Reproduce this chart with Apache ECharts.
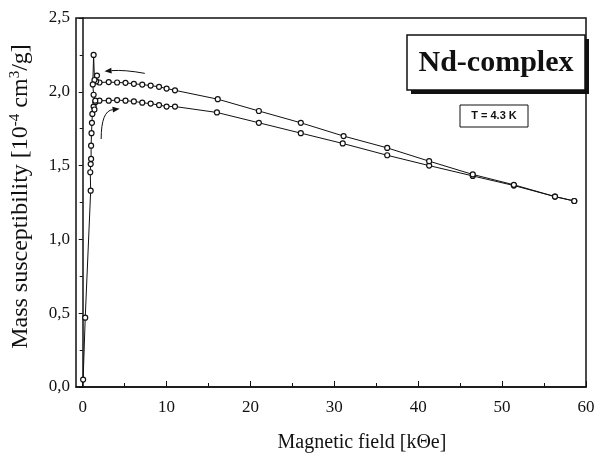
<!DOCTYPE html>
<html>
<head>
<meta charset="utf-8">
<script src="https://cdn.jsdelivr.net/npm/echarts@6/dist/echarts.min.js"></script>
<style>
  html, body { margin: 0; padding: 0; background: #fff; }
  #chart { width: 602px; height: 461px; }
</style>
</head>
<body>
<div id="chart"></div>
<script>
///////////////////////
// data
///////////////////////

// increasing field (lower branch)
const upField = [0.05, 0.3, 0.95, 0.9, 0.95, 1.0, 1.0, 1.05, 1.1, 1.15, 1.3, 1.5,
    2.0, 3.1, 4.1, 5.1, 6.1, 7.1, 8.1, 9.1, 10.0, 11.0,
    16.0, 21.0, 26.0, 31.0, 36.3, 41.3, 46.5, 51.4, 56.3, 58.6];
const upChi = [0.05, 0.47, 1.33, 1.455, 1.51, 1.545, 1.635, 1.72, 1.79, 1.85, 1.9, 1.93,
    1.94, 1.94, 1.944, 1.94, 1.935, 1.926, 1.92, 1.91, 1.9, 1.9,
    1.86, 1.79, 1.72, 1.65, 1.57, 1.5, 1.43, 1.365, 1.29, 1.26];

// decreasing field (upper branch)
const downField = [58.6, 56.3, 51.4, 46.5, 41.3, 36.3, 31.1, 26.0, 21.0, 16.1,
    11.0, 10.0, 9.1, 8.1, 7.1, 6.1, 5.1, 4.1, 3.1, 2.0,
    1.6, 1.7, 1.4, 1.3, 1.2, 1.3, 1.5, 1.4];
const downChi = [1.26, 1.29, 1.37, 1.44, 1.53, 1.62, 1.70, 1.79, 1.87, 1.95,
    2.01, 2.022, 2.034, 2.042, 2.049, 2.054, 2.061, 2.063, 2.066, 2.063,
    2.07, 2.11, 2.08, 2.25, 2.05, 1.98, 1.94, 1.88];

const xLabels = [0, 10, 20, 30, 40, 50, 60];
const xMinor = [5, 15, 25, 35, 45, 55];

// sweep arrows (data coords): start, control, end
const downArrow = [[7.4, 2.125], [5.0, 2.15], [2.6, 2.14]];
const upArrow = [[2.2, 1.68], [2.2, 1.87], [4.4, 1.885]];

const pairs = (xs, ys) => xs.map((x, i) => [x, ys[i]]);
const serif = '"Liberation Serif", "DejaVu Serif", serif';

const chart = echarts.init(document.getElementById('chart'));

const lineSeries = (name, data) => ({
    name: name,
    type: 'line',
    data: data,
    symbol: 'circle',
    symbolSize: 5,
    showSymbol: true,
    lineStyle: { color: '#111', width: 1 },
    itemStyle: { color: '#fff', borderColor: '#111', borderWidth: 1.2 },
    animation: false,
    z: 3
});

const option = {
    backgroundColor: '#fff',
    animation: false,
    grid: {
        left: 76, right: 16, top: 18, bottom: 74,
        show: true, borderColor: '#111', borderWidth: 1.5
    },
    xAxis: [{
        type: 'value',
        min: -0.8,
        max: 60,
        name: 'Magnetic field [kΘe]',
        nameLocation: 'middle',
        nameGap: 46,
        nameTextStyle: { fontFamily: serif, fontSize: 20, color: '#111', padding: [0, 0, 0, 62] },
        axisLine: { show: true, lineStyle: { color: '#111', width: 1.5 } },
        axisTick: { show: true, inside: true, length: 6, customValues: xLabels, lineStyle: { color: '#111' } },
        axisLabel: { customValues: xLabels, fontFamily: serif, fontSize: 17, color: '#111', margin: 12 },
        splitLine: { show: false }
    }, {
        // minor ticks
        type: 'value',
        position: 'bottom',
        min: -0.8,
        max: 60,
        axisLine: { show: false },
        axisTick: { show: true, inside: true, length: 4, customValues: xMinor, lineStyle: { color: '#111' } },
        axisLabel: { show: false },
        splitLine: { show: false }
    }],
    yAxis: {
        type: 'value',
        min: 0,
        max: 2.5,
        interval: 0.5,
        name: '{t|Mass susceptibility [10}{s|-4}{t| cm}{s|3}{t|/g]}',
        nameLocation: 'middle',
        nameGap: 42,
        nameTextStyle: {
            color: '#111',
            padding: [0, 0, 0, 12],
            rich: {
                t: { fontFamily: serif, fontSize: 24, color: '#111', lineHeight: 26 },
                s: { fontFamily: serif, fontSize: 15, color: '#111', verticalAlign: 'top', lineHeight: 26 }
            }
        },
        axisLine: { show: true, lineStyle: { color: '#111', width: 1.5 } },
        axisTick: { show: true, inside: false, length: 4, lineStyle: { color: '#111' } },
        minorTick: { show: true, splitNumber: 2, length: 3, lineStyle: { color: '#111' } },
        axisLabel: {
            fontFamily: serif, fontSize: 17, color: '#111', margin: 6,
            formatter: v => v.toFixed(1).replace('.', ',')
        },
        splitLine: { show: false }
    },
    series: [
        lineSeries('up', pairs(upField, upChi)),
        lineSeries('down', pairs(downField, downChi))
    ]
};

chart.setOption(option);

// curved arrows + labels, placed through the chart's own scale
function arrowGraphic(pts) {
    const p = pts.map(d => chart.convertToPixel({ gridIndex: 0 }, d));
    const end = p[2], ctrl = p[1];
    const ang = Math.atan2(end[1] - ctrl[1], end[0] - ctrl[0]);
    const L = 7, W = 3;
    const bx = end[0] - L * Math.cos(ang), by = end[1] - L * Math.sin(ang);
    const head = [
        end,
        [bx + W * Math.sin(ang), by - W * Math.cos(ang)],
        [bx - W * Math.sin(ang), by + W * Math.cos(ang)]
    ];
    return [
        { type: 'bezierCurve', shape: { x1: p[0][0], y1: p[0][1], cpx1: ctrl[0], cpy1: ctrl[1], x2: bx, y2: by },
          style: { stroke: '#111', lineWidth: 1, fill: null }, z: 5 },
        { type: 'polygon', shape: { points: head }, style: { fill: '#111' }, z: 5 }
    ];
}

chart.setOption({
    graphic: [
        ...arrowGraphic(downArrow),
        ...arrowGraphic(upArrow),
        // title box with drop shadow
        { type: 'rect', shape: { x: 411, y: 39, width: 178, height: 55 }, style: { fill: '#111' }, z: 10 },
        { type: 'rect', shape: { x: 407, y: 35, width: 178, height: 55 }, style: { fill: '#fff', stroke: '#111', lineWidth: 1.5 }, z: 11 },
        { type: 'text', x: 496, y: 63, style: { text: 'Nd-complex', font: 'bold 30px ' + serif, fill: '#111', align: 'center', verticalAlign: 'middle' }, z: 12 },
        { type: 'rect', shape: { x: 460, y: 105, width: 68, height: 22 }, style: { fill: '#fff', stroke: '#111', lineWidth: 1 }, z: 11 },
        { type: 'text', x: 494, y: 116, style: { text: 'T = 4.3 K', font: 'bold 11px "Liberation Sans Narrow", "Liberation Sans", sans-serif', fill: '#111', align: 'center', verticalAlign: 'middle' }, z: 12 }
    ]
});
</script>
</body>
</html>
